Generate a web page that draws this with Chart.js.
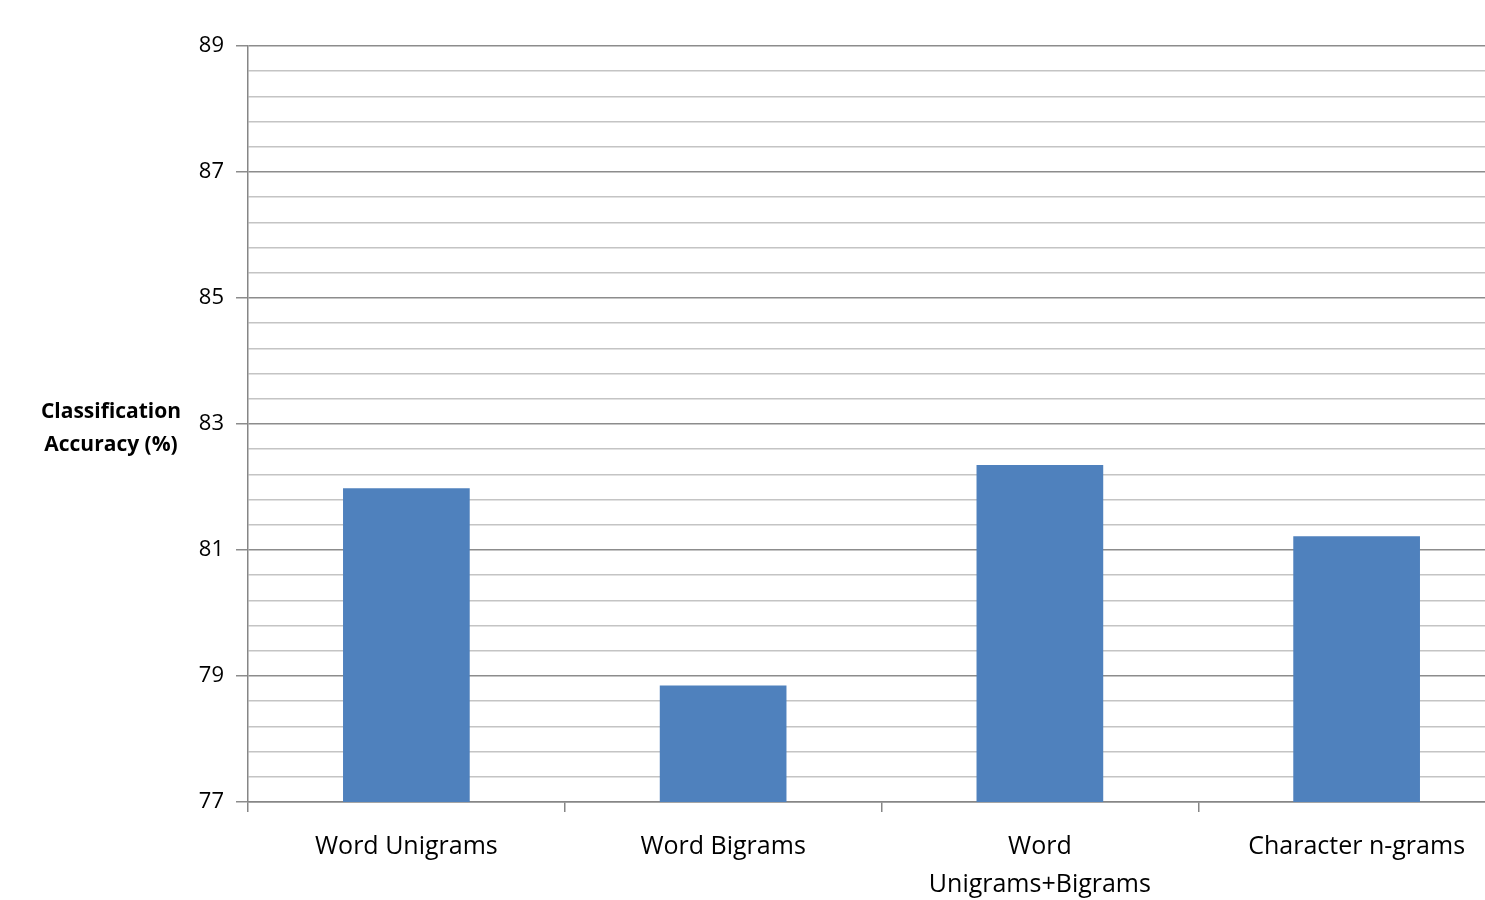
<!DOCTYPE html>
<html>
<head>
<meta charset="utf-8">
<script src="https://cdn.jsdelivr.net/npm/chart.js@4/dist/chart.umd.min.js"></script>
<style>
  html, body { margin: 0; padding: 0; background: #fff; overflow: hidden; }
  #wrap { width: 1520px; height: 900px; }
</style>
</head>
<body>
<div id="wrap"><canvas id="accuracyChart"></canvas></div>
<script>
const categories = [
  "Word Unigrams",
  "Word Bigrams",
  ["Word", "Unigrams+Bigrams"],
  "Character n-grams",
];
const accuracy = [81.98, 78.85, 82.35, 81.22];
const yMin = 77;
const yMax = 89;
const yStep = 0.4;
const yLabelStep = 2;
const axisTitle = ["Classification", "Accuracy (%)"];

const FONT = "'Open Sans', Lato, sans-serif";

function isMajor(v) {
  const k = (v - yMin) / yLabelStep;
  return Math.abs(k - Math.round(k)) < 1e-6;
}

const axisTitlePlugin = {
  id: "axisTitle",
  afterDraw(chart) {
    const { ctx, chartArea } = chart;
    const mid = (chartArea.top + chartArea.bottom) / 2;
    ctx.save();
    ctx.font = "bold 21px " + FONT;
    ctx.fillStyle = "#000";
    ctx.textAlign = "center";
    ctx.textBaseline = "middle";
    ctx.fillText(axisTitle[0], chartArea.left - 137, mid - 12);
    ctx.fillText(axisTitle[1], chartArea.left - 137, mid + 21);
    ctx.restore();
  },
};

const ctx = document.getElementById("accuracyChart").getContext("2d");
new Chart(ctx, {
  type: "bar",
  data: {
    labels: categories,
    datasets: [
      {
        data: accuracy,
        backgroundColor: "#4f81bd",
        borderWidth: 0,
        categoryPercentage: 0.4,
        barPercentage: 1,
      },
    ],
  },
  options: {
    responsive: true,
    maintainAspectRatio: false,
    animation: false,
    layout: { padding: { top: 46, right: 5, left: 0, bottom: 0 } },
    plugins: {
      legend: { display: false },
      tooltip: { enabled: false },
    },
    scales: {
      x: {
        offset: true,
        grid: {
          offset: true,
          drawOnChartArea: false,
          tickLength: 10,
          tickColor: "#868686",
          lineWidth: 1.5,
        },
        border: { color: "#868686", width: 1.5 },
        ticks: {
          color: "#000",
          font: { family: FONT, size: 25, lineHeight: 1.55 },
          padding: 15,
          maxRotation: 0,
          autoSkip: false,
        },
        afterFit: (scale) => { scale.height = 98; },
      },
      y: {
        min: yMin,
        max: yMax,
        grid: {
          color: (c) => (isMajor(c.tick.value) ? "#8c8c8c" : "#c4c4c4"),
          lineWidth: 1.5,
          tickLength: 12,
          tickColor: (c) => (isMajor(c.tick.value) ? "#8c8c8c" : "rgba(0,0,0,0)"),
        },
        border: { color: "#868686", width: 1.5 },
        ticks: {
          stepSize: yStep,
          maxTicksLimit: 40,
          autoSkip: false,
          color: "#000",
          font: { family: FONT, size: 22 },
          padding: 12,
          callback: (v) => (isMajor(v) ? Math.round(v).toString() : ""),
        },
        afterFit: (scale) => { scale.width = 248; },
      },
    },
  },
  plugins: [axisTitlePlugin],
});
</script>
</body>
</html>
